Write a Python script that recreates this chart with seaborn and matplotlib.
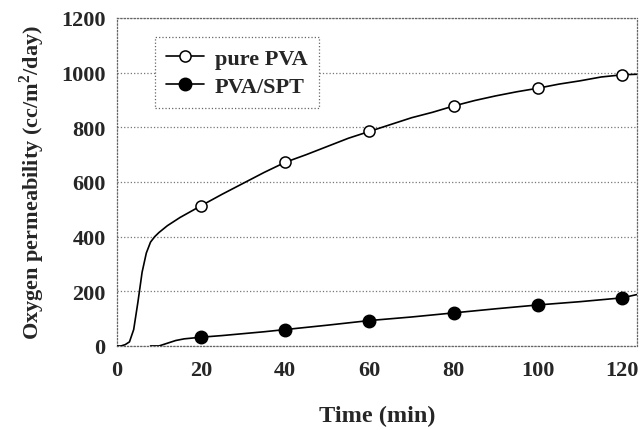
import numpy as np
import pandas as pd
import matplotlib
matplotlib.use("Agg")
import matplotlib.pyplot as plt
from matplotlib.lines import Line2D
import seaborn as sns

# ---- data ----
pva_time = [0, 1, 2, 3, 4, 5, 6, 7, 8, 9, 10, 12, 15, 20, 25, 30, 35, 40, 45, 50,
            55, 60, 65, 70, 75, 80, 85, 90, 95, 100, 105, 110, 115, 120, 123.5]
pva_value = [0, 0, 5, 15, 60, 160, 270, 340, 380, 400, 415, 440, 470, 513, 555, 595,
             635, 672, 700, 730, 760, 785, 810, 835, 855, 878, 898, 915, 930, 943,
             958, 970, 984, 992, 994]

spt_time = [8, 10, 12, 14, 16, 20, 25, 30, 35, 40, 50, 60, 70, 80, 90, 100, 110,
            120, 123.5]
spt_value = [0, 0, 10, 20, 26, 32, 38, 45, 52, 60, 76, 93, 106, 121, 136, 150, 162,
             176, 188]

marker_time = [20, 40, 60, 80, 100, 120]
pva_marker = [513, 672, 785, 878, 943, 992]
spt_marker = [32, 60, 93, 121, 150, 176]

x_ticks = [0, 20, 40, 60, 80, 100, 120]
y_ticks = [0, 200, 400, 600, 800, 1000, 1200]

sns.set_theme(style="white")
plt.rcParams['font.family'] = ['Liberation Serif', 'DejaVu Serif']
plt.rcParams['font.weight'] = 'bold'
plt.rcParams['mathtext.fontset'] = 'custom'
plt.rcParams['mathtext.bf'] = 'Liberation Serif:bold'
plt.rcParams['mathtext.rm'] = 'Liberation Serif:bold'

fig = plt.figure(figsize=(6.42, 4.31), dpi=100)
ax = fig.add_axes([0.182, 0.195, 0.81, 0.761])

df_pva = pd.DataFrame({'t': pva_time, 'v': pva_value})
df_spt = pd.DataFrame({'t': spt_time, 'v': spt_value})
sns.lineplot(data=df_pva, x='t', y='v', color='black', linewidth=1.2, ax=ax, zorder=3)
sns.lineplot(data=df_spt, x='t', y='v', color='black', linewidth=1.2, ax=ax, zorder=3)

df_mk = pd.DataFrame({'t': marker_time, 'pva': pva_marker, 'spt': spt_marker})
ax.plot(df_mk['t'], df_mk['pva'], linestyle='none', marker='o', markersize=8,
        markerfacecolor='white', markeredgecolor='black', markeredgewidth=1.1, zorder=4)
ax.plot(df_mk['t'], df_mk['spt'], linestyle='none', marker='o', markersize=9,
        markerfacecolor='black', markeredgecolor='black', zorder=4)

ax.set_xlim(0, 123.5)
ax.set_ylim(0, 1200)
ax.set_xticks(x_ticks)
ax.set_yticks(y_ticks)
ax.tick_params(axis='x', direction='in', length=4, width=1, color='black',
               labelsize=16, pad=10)
ax.tick_params(axis='y', length=0, labelsize=16, pad=8)
for lab in ax.get_xticklabels() + ax.get_yticklabels():
    lab.set_fontweight('bold')

ax.yaxis.grid(True, linestyle=':', color='#777777', linewidth=0.9)
ax.xaxis.grid(False)
for side in ['left', 'right', 'top', 'bottom']:
    ax.spines[side].set_visible(True)
    ax.spines[side].set_linestyle(':')
    ax.spines[side].set_color('#666666')
    ax.spines[side].set_linewidth(0.9)

ax.set_xlabel('Time (min)', fontsize=17.5, fontweight='bold', labelpad=18)
ax.set_ylabel(r'Oxygen permeability (cc/m$^{\mathbf{2}}$/day)', fontsize=16,
              fontweight='bold', labelpad=10)

handles = [
    Line2D([], [], color='black', linewidth=1.2, marker='o', markersize=8,
           markerfacecolor='white', markeredgecolor='black', markeredgewidth=1.1),
    Line2D([], [], color='black', linewidth=1.2, marker='o', markersize=9,
           markerfacecolor='black', markeredgecolor='black'),
]
leg = ax.legend(handles, ['pure PVA', 'PVA/SPT'], loc='upper left',
                bbox_to_anchor=(0.073, 0.942), borderaxespad=0, frameon=True,
                fancybox=False, framealpha=1, edgecolor='#666666',
                prop={'family': 'Liberation Serif', 'weight': 'bold', 'size': 16},
                handlelength=1.7, borderpad=0.5, labelspacing=0.35, handletextpad=0.5)
leg.get_frame().set_linestyle(':')
leg.get_frame().set_linewidth(0.9)

fig.savefig('out.png', dpi=100)
